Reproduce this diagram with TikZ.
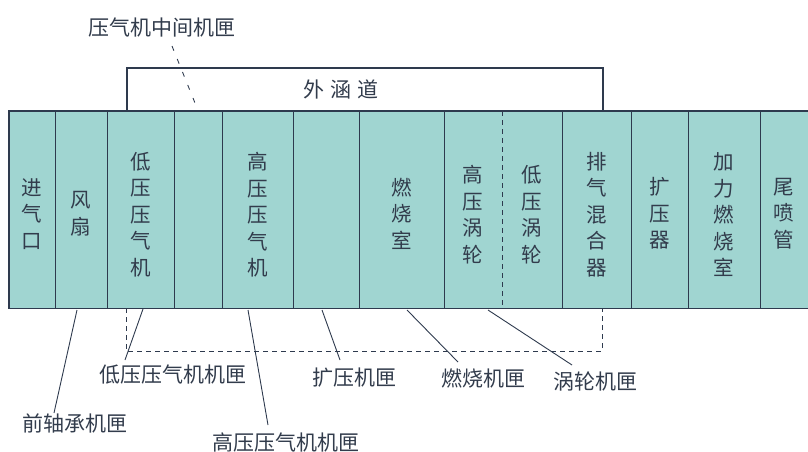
\documentclass[tikz,border=0pt]{standalone}
\usepackage{fontspec}
\setmainfont{Noto Sans CJK SC}
\definecolor{linec}{RGB}{46,58,78}
\definecolor{textc}{RGB}{50,60,76}
\definecolor{bandc}{RGB}{160,213,209}
\newcommand{\cellfont}{\fontsize{20.5}{26.5}\selectfont}
\newcommand{\lblfont}{\fontsize{21}{24}\selectfont}
\begin{document}
\begin{tikzpicture}[x=1pt,y=-1pt,
  cell/.style={inner sep=0pt, minimum height=197pt, anchor=north west},
  celltext/.style={inner sep=0pt, align=center, font=\cellfont, text=textc},
  lbl/.style={font=\lblfont, text=textc, inner sep=1pt},
  solidline/.style={draw=linec, line width=1.1pt},
  leader/.style={draw=linec, line width=0.9pt},
  dashline/.style={draw=linec, line width=1pt, dash pattern=on 5pt off 4pt}]
\useasboundingbox (0,0) rectangle (808,452);
% band fill
\fill[bandc] (9,111) rectangle (808,308);
% cells
\node[cell, minimum width=46pt] (c1) at (9,111) {};
\node[cell, minimum width=52pt] (c2) at (55,111) {};
\node[cell, minimum width=67pt] (c3) at (107,111) {};
\node[cell, minimum width=48pt] (c4) at (174,111) {};
\node[cell, minimum width=71pt] (c5) at (222,111) {};
\node[cell, minimum width=66pt] (c6) at (293,111) {};
\node[cell, minimum width=85pt] (c7) at (359,111) {};
\node[cell, minimum width=58pt] (c8) at (444,111) {};
\node[cell, minimum width=60pt] (c9) at (502,111) {};
\node[cell, minimum width=69pt] (c10) at (562,111) {};
\node[cell, minimum width=57pt] (c11) at (631,111) {};
\node[cell, minimum width=72pt] (c12) at (688,111) {};
\node[cell, minimum width=48pt] (c13) at (760,111) {};
% cell texts
\node[celltext] (t1) at ([yshift=-4pt]c1.center) {进\\气\\口};
\node[celltext] (t2) at ([yshift=-4pt]c2.center) {风\\扇};
\node[celltext] (t3) at ([yshift=-5pt]c3.center) {低\\压\\压\\气\\机};
\node[celltext] (t5) at ([yshift=-5pt]c5.center) {高\\压\\压\\气\\机};
\node[celltext] (t7) at ([yshift=-4pt]c7.center) {燃\\烧\\室};
\node[celltext] (t8) at ([yshift=-5pt]c8.center) {高\\压\\涡\\轮};
\node[celltext] (t9) at ([yshift=-5pt]c9.center) {低\\压\\涡\\轮};
\node[celltext] (t10) at ([yshift=-5pt]c10.center) {排\\气\\混\\合\\器};
\node[celltext] (t11) at ([yshift=-4pt]c11.center) {扩\\压\\器};
\node[celltext] (t12) at ([yshift=-5pt]c12.center) {加\\力\\燃\\烧\\室};
\node[celltext] (t13) at ([yshift=-4pt]c13.center) {尾\\喷\\管};
% band outline
\draw[solidline] (c13.north east) -- (c1.north west) -- (c1.south west) -- (c13.south east);
% dividers
\foreach \c in {c1,c2,c3,c4,c5,c6,c7,c9,c10,c11,c12}
  \draw[solidline] (\c.north east) -- (\c.south east);
\draw[dashline] (c8.north east) -- (c8.south east);
% bypass duct
\coordinate (dl) at (127,68);
\coordinate (dr) at (603,68);
\draw[solidline] (dl |- c1.north) -- (dl) -- (dr) -- (dr |- c1.north);
\node[lbl] (bypass) at (341,89) {外\hspace{6pt}涵\hspace{6pt}道};
% casing dashed box
\coordinate (bx1) at (126,308);
\coordinate (bx2) at (602,351);
\draw[dashline] (bx1) rectangle (bx2);
% top label
\node[lbl] (midcase) at (162,27) {压气机中间机匣};
\coordinate (midend) at (195,103);
\draw[leader, dash pattern=on 5pt off 9pt] (172,46) -- (midend);
% bottom labels
\node[lbl] (front) at (75,423) {前轴承机匣};
\node[lbl] (lpc) at (173,375) {低压压气机机匣};
\node[lbl] (hpc) at (286,442) {高压压气机机匣};
\node[lbl] (diff) at (354,378) {扩压机匣};
\node[lbl] (comb) at (483,378) {燃烧机匣};
\node[lbl] (turb) at (595,382) {涡轮机匣};
\coordinate (a1) at (77,310);
\coordinate (a2) at (143,309);
\coordinate (a3) at (248,310);
\coordinate (a4) at (322,310);
\coordinate (a5) at (407,310);
\coordinate (a6) at (488,310);
\draw[leader] (a1) -- (54,413);
\draw[leader] (a2) -- (125,360);
\draw[leader] (a3) -- (268,425);
\draw[leader] (a4) -- (340,360);
\draw[leader] (a5) -- (458,362);
\draw[leader] (a6) -- (572,365);
\end{tikzpicture}
\end{document}
